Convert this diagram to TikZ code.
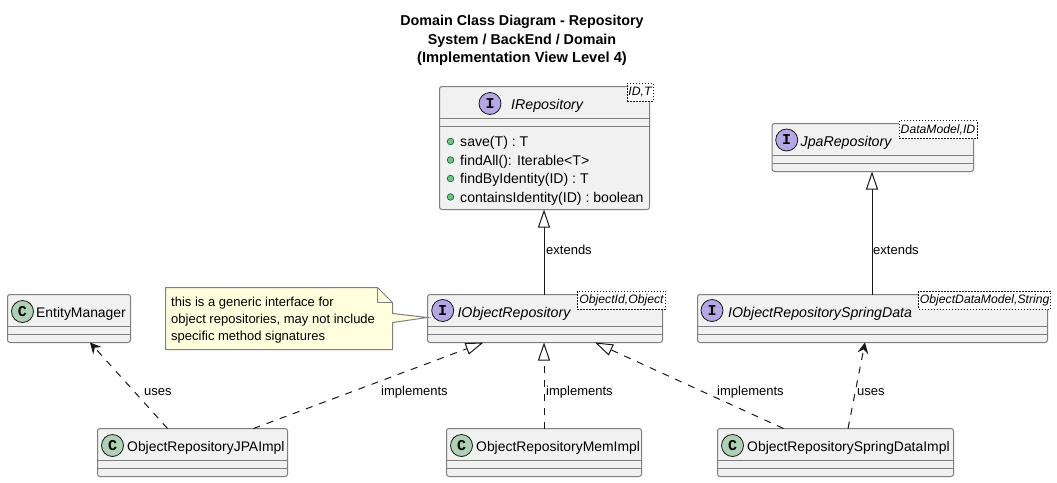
\documentclass[tikz,border=0pt]{standalone}
\usepackage{fontspec}
\setmainfont{Liberation Sans}
\setmonofont{Liberation Mono}
\usetikzlibrary{arrows.meta,calc}
\definecolor{ink}{HTML}{181818}
\definecolor{edge}{HTML}{7F7F7F}
\definecolor{boxfill}{HTML}{F1F1F1}
\definecolor{ifacefill}{HTML}{B4A7E5}
\definecolor{classfill}{HTML}{ADD1B2}
\definecolor{notefill}{HTML}{FEFFDD}
\definecolor{pubfill}{HTML}{84BE84}
\definecolor{pubedge}{HTML}{038048}
\newcommand{\fs}[1]{\fontsize{#1}{#1}\selectfont}
\tikzset{
  x=1pt,y=-1pt,
  umlbox/.style={draw=edge,fill=boxfill,line width=1pt,rounded corners=2.5pt,inner sep=0pt,outer sep=0pt,anchor=north west},
  seprule/.style={draw=edge,line width=1pt},
  iface/.style={circle,draw=ink,line width=.8pt,fill=ifacefill,minimum size=22pt,inner sep=0pt,font=\fs{15}\ttfamily\bfseries},
  cls/.style={circle,draw=ink,line width=.8pt,fill=classfill,minimum size=22pt,inner sep=0pt,font=\fs{15}\ttfamily\bfseries},
  nm/.style={anchor=base west,inner sep=0pt,text=black,font=\fs{13.9}},
  inm/.style={anchor=base west,inner sep=0pt,text=black,font=\fs{14.2}\itshape},
  gen/.style={draw=ink,line width=.6pt,dash pattern=on 1.5pt off 1.5pt,fill=white,anchor=north west,inner sep=0pt,outer sep=0pt,font=\fs{12.2}\itshape,align=center},
  lbl/.style={anchor=base west,inner sep=0pt,text=black,font=\fs{13}},
  ttl/.style={anchor=base,inner sep=0pt,text=black,font=\fs{14.3}\bfseries},
  mth/.style={anchor=base west,inner sep=0pt,text=black,font=\fs{14.1}},
  pub/.style={circle,draw=pubedge,fill=pubfill,line width=.8pt,minimum size=6.5pt,inner sep=0pt},
  inherit/.style={draw=ink,line width=1pt,-{Triangle[open,length=18pt,width=12pt,fill=white]}},
  realize/.style={inherit,dash pattern=on 7pt off 7pt},
  depend/.style={draw=ink,line width=1pt,dash pattern=on 7pt off 7pt,-{Stealth[length=11pt,width=11pt,inset=4pt]}},
}
\begin{document}
\begin{tikzpicture}
\useasboundingbox (0,0) rectangle (1057,482);
\fill[white] (0,0) rectangle (1057,482);
\node[ttl] (t1) at (522,25) {Domain Class Diagram - Repository};
\node[ttl] (t2) at (522,44) {System / BackEnd / Domain};
\node[ttl,font=\fs{14.7}\bfseries] (t3) at (522,62) {(Implementation View Level 4)};

% IRepository
\node[umlbox,minimum width=210pt,minimum height=123pt] (repo) at (439.5,86.5) {};
\draw[seprule] ([yshift=-31.5pt]repo.north west) -- ([yshift=-31.5pt]repo.north east);
\draw[seprule] ([yshift=-39.5pt]repo.north west) -- ([yshift=-39.5pt]repo.north east);
\node[iface] (repoI) at (490,103.5) {I};
\node[inm] (repoN) at (511,109) {IRepository};
\node[gen,minimum width=26pt,minimum height=18pt] (repoG) at (627,83) {ID,T};
\node[pub] (d1) at (450.5,141.5) {};
\node[pub] (d2) at (450.5,160) {};
\node[pub] (d3) at (450.5,178.5) {};
\node[pub] (d4) at (450.5,197) {};
\node[mth] (m1) at (460,146.5) {save(T) : T};
\node[mth] (m2) at (460,165) {findAll(): Iterable<T>};
\node[mth] (m3) at (460,183.5) {findByIdentity(ID) : T};
\node[mth] (m4) at (460,202) {containsIdentity(ID) : boolean};

% JpaRepository
\node[umlbox,minimum width=201.5pt,minimum height=48pt] (jpa) at (772,123.5) {};
\draw[seprule] ([yshift=-32pt]jpa.north west) -- ([yshift=-32pt]jpa.north east);
\draw[seprule] ([yshift=-40pt]jpa.north west) -- ([yshift=-40pt]jpa.north east);
\node[iface] (jpaI) at (786.7,140) {I};
\node[inm] (jpaN) at (800.5,146.7) {JpaRepository};
\node[gen,minimum width=78pt,minimum height=18pt] (jpaG) at (899,120.5) {DataModel,ID};

% IObjectRepository
\node[umlbox,minimum width=235pt,minimum height=48pt] (obj) at (427.5,294.5) {};
\draw[seprule] ([yshift=-32pt]obj.north west) -- ([yshift=-32pt]obj.north east);
\draw[seprule] ([yshift=-40pt]obj.north west) -- ([yshift=-40pt]obj.north east);
\node[iface] (objI) at (442.7,310.5) {I};
\node[inm] (objN) at (457.3,317.5) {IObjectRepository};
\node[gen,minimum width=88.4pt,minimum height=18pt] (objG) at (577.3,291) {ObjectId,Object};

% IObjectRepositorySpringData
\node[umlbox,minimum width=350pt,minimum height=48pt] (spr) at (697.5,294.5) {};
\draw[seprule] ([yshift=-32pt]spr.north west) -- ([yshift=-32pt]spr.north east);
\draw[seprule] ([yshift=-40pt]spr.north west) -- ([yshift=-40pt]spr.north east);
\node[iface] (sprI) at (712,310.5) {I};
\node[inm] (sprN) at (728,317) {IObjectRepositorySpringData};
\node[gen,minimum width=132pt,minimum height=18pt] (sprG) at (918.7,291) {ObjectDataModel,String};

% EntityManager
\node[umlbox,minimum width=123pt,minimum height=48pt] (em) at (7.5,294.5) {};
\draw[seprule] ([yshift=-32pt]em.north west) -- ([yshift=-32pt]em.north east);
\draw[seprule] ([yshift=-40pt]em.north west) -- ([yshift=-40pt]em.north east);
\node[cls] (emC) at (22.5,311.5) {C};
\node[nm] (emN) at (36,317.5) {EntityManager};

% Implementations
\node[umlbox,minimum width=190pt,minimum height=48pt] (ij) at (97.5,428.5) {};
\draw[seprule] ([yshift=-32pt]ij.north west) -- ([yshift=-32pt]ij.north east);
\draw[seprule] ([yshift=-40pt]ij.north west) -- ([yshift=-40pt]ij.north east);
\node[cls] (ijC) at (112.5,445.5) {C};
\node[nm] (ijN) at (127,451) {ObjectRepositoryJPAImpl};

\node[umlbox,minimum width=195pt,minimum height=48pt] (im) at (446.5,428.5) {};
\draw[seprule] ([yshift=-32pt]im.north west) -- ([yshift=-32pt]im.north east);
\draw[seprule] ([yshift=-40pt]im.north west) -- ([yshift=-40pt]im.north east);
\node[cls] (imC) at (461.5,445.5) {C};
\node[nm] (imN) at (476,451) {ObjectRepositoryMemImpl};

\node[umlbox,minimum width=236pt,minimum height=48pt] (is) at (717.5,428.5) {};
\draw[seprule] ([yshift=-32pt]is.north west) -- ([yshift=-32pt]is.north east);
\draw[seprule] ([yshift=-40pt]is.north west) -- ([yshift=-40pt]is.north east);
\node[cls] (isC) at (732.5,445.5) {C};
\node[nm] (isN) at (747,451) {ObjectRepositorySpringDataImpl};

% Note
\coordinate (nA) at (165.5,287.5);
\coordinate (nB) at (377.5,287.5);
\coordinate (nC) at (392.5,302.5);
\coordinate (nD) at (392.5,349.5);
\coordinate (nE) at (165.5,349.5);
\coordinate (nF) at (392.5,313.5);
\coordinate (nG) at (392.5,322.5);
\coordinate (nT) at ([yshift=-23pt]obj.north west);
\draw[edge,fill=notefill,line width=1pt] (nA) -- (nB) -- (nC) -- (nF) -- (nT) -- (nG) -- (nD) -- (nE) -- cycle;
\draw[edge,line width=1pt] (nB) -- ++(0,15) -- (nC);
\node[lbl] (n1) at (171,306) {this is a generic interface for};
\node[lbl] (n2) at (171,323) {object repositories, may not include};
\node[lbl] (n3) at (171,340.5) {specific method signatures};

% Connectors
\draw[inherit] ([xshift=116.5pt]obj.north west) -- ([xshift=104.5pt]repo.south west);
\draw[inherit] ([xshift=174.5pt]spr.north west) -- ([xshift=100pt]jpa.south west);
\draw[realize] ([xshift=156pt]ij.north west) -- ([xshift=56pt]obj.south west);
\draw[realize] ([xshift=97.5pt]im.north west) -- ([xshift=116.5pt]obj.south west);
\draw[realize] ([xshift=66pt]is.north west) -- ([xshift=167.5pt]obj.south west);
\draw[depend] ([xshift=70pt]ij.north west) -- ([xshift=82.5pt]em.south west);
\draw[depend] ([xshift=130.5pt]is.north west) -- ([xshift=167.5pt]spr.south west);

\node[lbl] (e1) at (546,254) {extends};
\node[lbl] (e2) at (873,254) {extends};
\node[lbl] (u1) at (144,395) {uses};
\node[lbl] (u2) at (857,395) {uses};
\node[lbl] (r1) at (381,395) {implements};
\node[lbl] (r2) at (546,395) {implements};
\node[lbl] (r3) at (717,395) {implements};
\end{tikzpicture}
\end{document}
